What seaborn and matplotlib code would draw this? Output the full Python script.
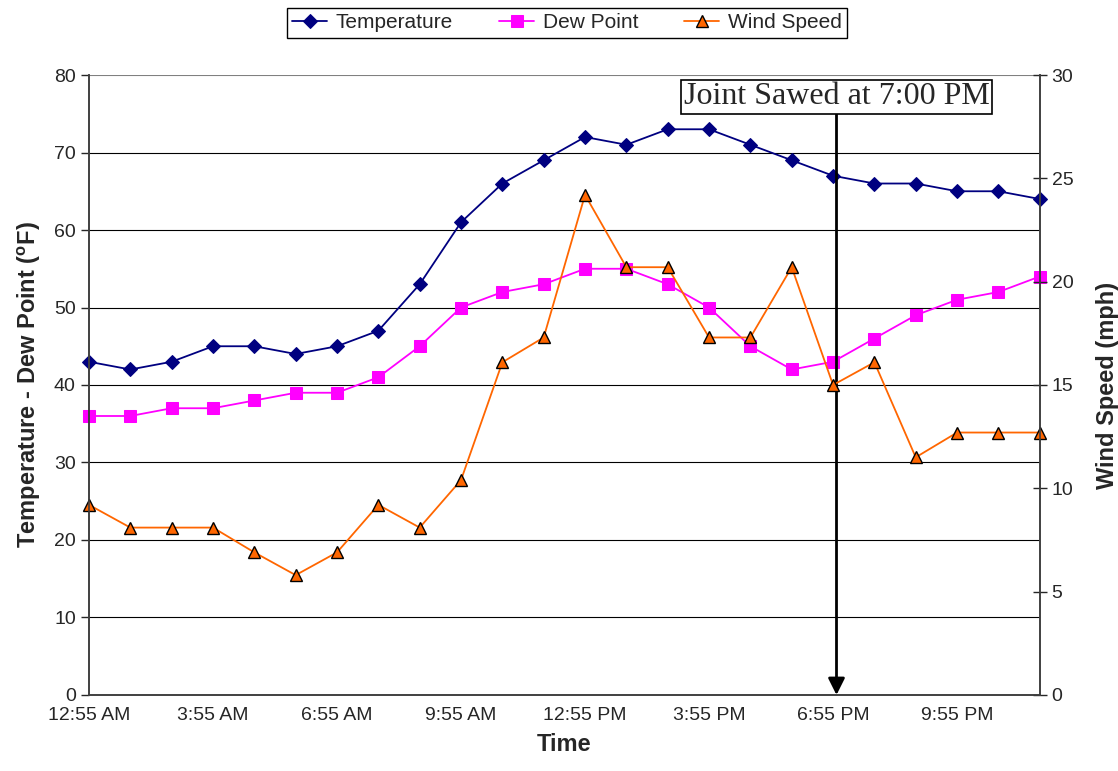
import matplotlib
matplotlib.use("Agg")
import matplotlib.pyplot as plt
import seaborn as sns
import pandas as pd

# hourly readings
times = ["12:55 AM", "1:55 AM", "2:55 AM", "3:55 AM", "4:55 AM", "5:55 AM",
         "6:55 AM", "7:55 AM", "8:55 AM", "9:55 AM", "10:55 AM", "11:55 AM",
         "12:55 PM", "1:55 PM", "2:55 PM", "3:55 PM", "4:55 PM", "5:55 PM",
         "6:55 PM", "7:55 PM", "8:55 PM", "9:55 PM", "10:55 PM", "11:55 PM"]
temperature = [43, 42, 43, 45, 45, 44, 45, 47, 53, 61, 66, 69,
               72, 71, 73, 73, 71, 69, 67, 66, 66, 65, 65, 64]
dew_point = [36, 36, 37, 37, 38, 39, 39, 41, 45, 50, 52, 53,
             55, 55, 53, 50, 45, 42, 43, 46, 49, 51, 52, 54]
wind_speed = [9.2, 8.1, 8.1, 8.1, 6.9, 5.8, 6.9, 9.2, 8.1, 10.4, 16.1, 17.3,
              24.2, 20.7, 20.7, 17.3, 17.3, 20.7, 15.0, 16.1, 11.5, 12.7, 12.7, 12.7]
saw_time = 18 + 5 / 60  # 7:00 PM, between 6:55 PM and 7:55 PM

df = pd.DataFrame({"idx": range(len(times)), "Temperature": temperature,
                   "Dew Point": dew_point, "Wind Speed": wind_speed})

sns.set_style("white")
plt.rcParams["font.family"] = ["Liberation Sans", "DejaVu Sans"]

fig, ax = plt.subplots(figsize=(11.18, 7.71), dpi=100)
fig.subplots_adjust(left=0.0796, right=0.930, top=0.9027, bottom=0.0986)
ax2 = ax.twinx()

sns.lineplot(data=df, x="idx", y="Temperature", ax=ax, color="#000080", marker="D",
             markersize=7, markeredgecolor="#000080", linewidth=1.3, label="Temperature", legend=False)
sns.lineplot(data=df, x="idx", y="Dew Point", ax=ax, color="#FF00FF", marker="s",
             markersize=8, markeredgecolor="#FF00FF", linewidth=1.3, label="Dew Point", legend=False)
sns.lineplot(data=df, x="idx", y="Wind Speed", ax=ax2, color="#FF6600", marker="^",
             markersize=8, markerfacecolor="#FF6600", markeredgecolor="black",
             markeredgewidth=1, linewidth=1.3, label="Wind Speed", legend=False)
for line in ax.lines + ax2.lines:
    line.set_clip_on(False)

ax.set_xlim(0, len(times) - 1)
ax.set_ylim(0, 80)
ax2.set_ylim(0, 30)
ax.set_yticks(range(0, 81, 10))
ax2.set_yticks(range(0, 31, 5))
ax.set_xticks(range(len(times)))
ax.set_xticklabels([t if i % 3 == 0 else "" for i, t in enumerate(times)])

for y in range(10, 81, 10):
    ax.axhline(y, color="black" if y < 80 else "#808080", linewidth=0.8, zorder=0)

ax.tick_params(axis="x", direction="inout", length=10, width=1, labelsize=14, pad=4)
ax.tick_params(axis="y", direction="out", length=6, width=1, labelsize=14, left=True)
ax2.tick_params(axis="y", direction="inout", length=10, width=1, labelsize=14, right=True)

for a in (ax, ax2):
    a.spines["top"].set_visible(False)
    for s in ("left", "bottom", "right"):
        a.spines[s].set_color("#404040")
        a.spines[s].set_linewidth(1.2)

ax.set_xlabel("Time", fontsize=17, fontweight="bold", labelpad=6)
ax.set_ylabel("Temperature - Dew Point ($^\\mathregular{o}$F)", fontsize=17, fontweight="bold", labelpad=8)
ax2.set_ylabel("Wind Speed (mph)", fontsize=17, fontweight="bold", labelpad=16)

ax.annotate("Joint Sawed at 7:00 PM", xy=(saw_time, 0), xytext=(saw_time, 77.2),
            ha="center", va="center", fontsize=23, family="Liberation Serif",
            bbox=dict(boxstyle="square,pad=0.08", facecolor="white", edgecolor="black", linewidth=1.2),
            arrowprops=dict(arrowstyle="-|>", color="black", lw=2, mutation_scale=25,
                            shrinkA=0, shrinkB=0),
            zorder=10, annotation_clip=False)

h1, l1 = ax.get_legend_handles_labels()
h2, l2 = ax2.get_legend_handles_labels()
fig.legend(h1 + h2, l1 + l2, loc="upper center", bbox_to_anchor=(0.507, 1.003), ncol=3,
           fontsize=15, frameon=True, fancybox=False, edgecolor="black", framealpha=1,
           handlelength=1.7, handletextpad=0.4, columnspacing=2.2, borderpad=0.25)

fig.savefig("out.png", dpi=100)
